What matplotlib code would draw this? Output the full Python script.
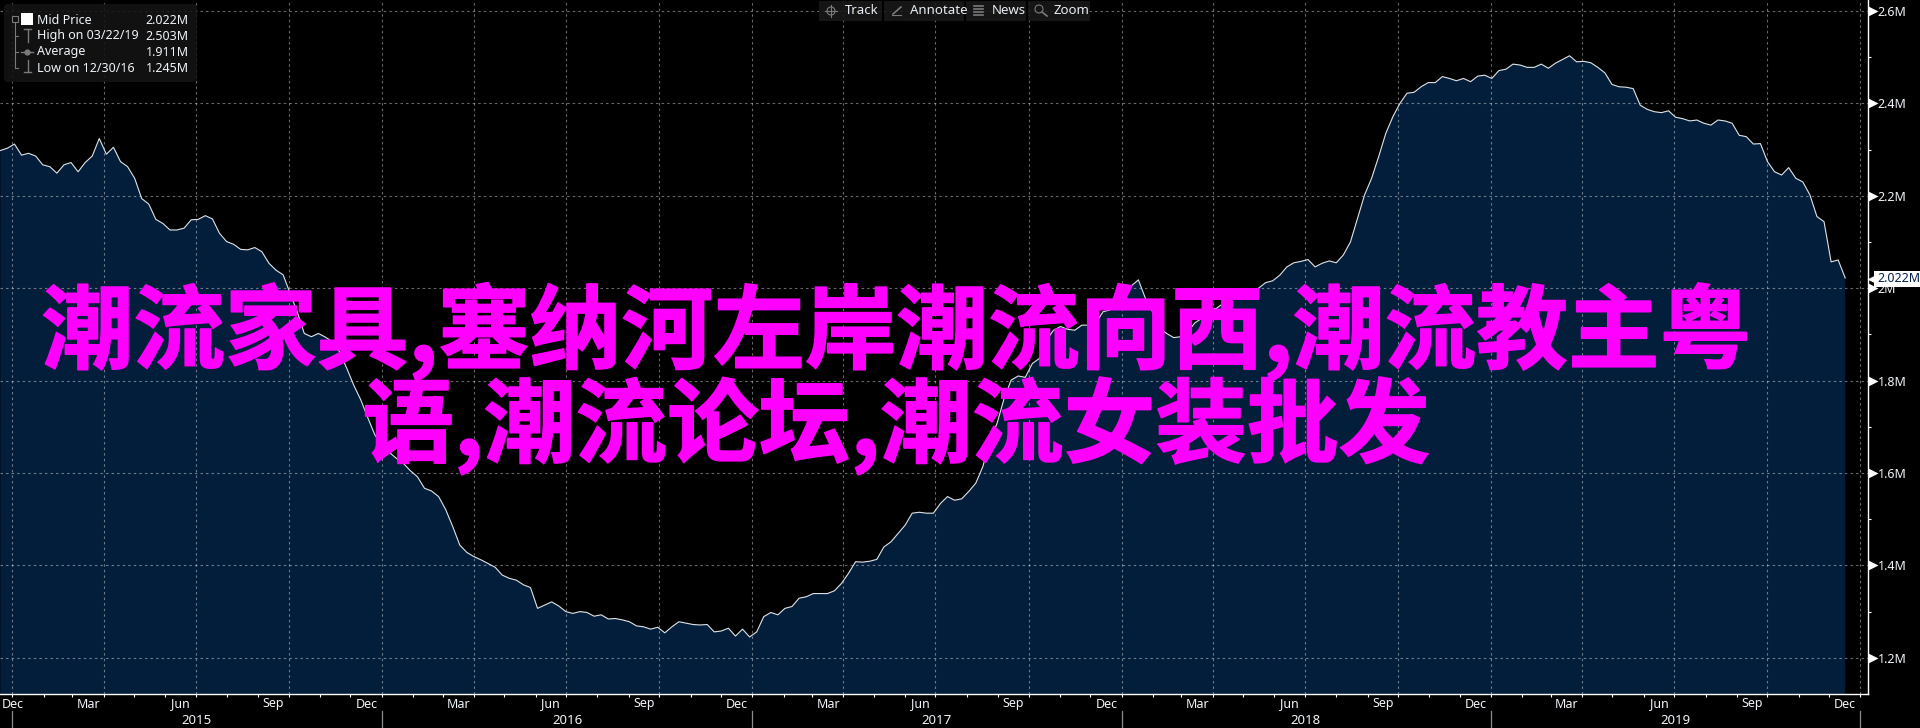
import matplotlib
matplotlib.use("Agg")
import matplotlib.pyplot as plt
import matplotlib.patheffects as pe
import pandas as pd
from matplotlib.patches import FancyBboxPatch, Circle, Rectangle

plt.rcParams["font.family"] = ["Noto Sans", "DejaVu Sans"]

# weekly mid price, millions
mid_price = [
    2.298, 2.303, 2.312, 2.288, 2.292, 2.286, 2.267, 2.263, 2.249, 2.267,
    2.272, 2.252, 2.272, 2.286, 2.324, 2.290, 2.305, 2.274, 2.263, 2.238,
    2.194, 2.182, 2.149, 2.140, 2.126, 2.126, 2.130, 2.148, 2.149, 2.157,
    2.150, 2.119, 2.101, 2.095, 2.084, 2.083, 2.088, 2.079, 2.054, 2.039,
    2.029, 1.989, 1.949, 1.902, 1.895, 1.902, 1.894, 1.884, 1.862, 1.827,
    1.790, 1.758, 1.719, 1.682, 1.661, 1.645, 1.632, 1.621, 1.605, 1.592,
    1.567, 1.561, 1.549, 1.521, 1.484, 1.444, 1.428, 1.419, 1.412, 1.404,
    1.396, 1.379, 1.372, 1.368, 1.358, 1.352, 1.307, 1.314, 1.321, 1.312,
    1.300, 1.296, 1.300, 1.298, 1.290, 1.293, 1.284, 1.285, 1.282, 1.278,
    1.269, 1.267, 1.262, 1.266, 1.254, 1.267, 1.278, 1.275, 1.272, 1.271,
    1.272, 1.256, 1.258, 1.264, 1.247, 1.262, 1.245, 1.256, 1.289, 1.298,
    1.293, 1.307, 1.311, 1.329, 1.332, 1.339, 1.339, 1.339, 1.345, 1.361,
    1.383, 1.408, 1.407, 1.409, 1.413, 1.440, 1.451, 1.469, 1.487, 1.513,
    1.515, 1.513, 1.513, 1.534, 1.549, 1.541, 1.544, 1.560, 1.578, 1.614,
    1.671, 1.707, 1.761, 1.801, 1.810, 1.807, 1.837, 1.848, 1.888, 1.909,
    1.917, 1.911, 1.909, 1.920, 1.920, 1.925, 1.949, 1.953, 1.974, 2.000,
    2.005, 2.018, 1.978, 1.949, 1.913, 1.902, 1.893, 1.895, 1.906, 1.925,
    1.935, 1.953, 1.956, 1.967, 1.981, 1.992, 1.997, 1.994, 2.000, 2.012,
    2.016, 2.028, 2.046, 2.055, 2.058, 2.062, 2.046, 2.054, 2.059, 2.055,
    2.072, 2.100, 2.151, 2.202, 2.238, 2.285, 2.335, 2.371, 2.400, 2.422,
    2.424, 2.436, 2.445, 2.445, 2.458, 2.454, 2.449, 2.454, 2.447, 2.459,
    2.461, 2.454, 2.471, 2.474, 2.485, 2.483, 2.478, 2.478, 2.485, 2.476,
    2.487, 2.495, 2.503, 2.490, 2.491, 2.488, 2.478, 2.466, 2.441, 2.436,
    2.435, 2.432, 2.396, 2.387, 2.382, 2.380, 2.384, 2.370, 2.367, 2.362,
    2.364, 2.357, 2.353, 2.364, 2.362, 2.357, 2.331, 2.328, 2.312, 2.313,
    2.274, 2.252, 2.245, 2.261, 2.238, 2.230, 2.202, 2.155, 2.144, 2.057,
    2.061, 2.022,
]
dates = pd.date_range("2014-12-19", "2019-12-16", periods=len(mid_price))

y_ticks = [1.2, 1.4, 1.6, 1.8, 2.0, 2.2, 2.4, 2.6]
y_labels = ["1.2M", "1.4M", "1.6M", "1.8M", "2M", "2.2M", "2.4M", "2.6M"]
y_minor = [1.3, 1.5, 1.7, 1.9, 2.1, 2.3, 2.5]
years = [2015, 2016, 2017, 2018, 2019]

legend_rows = [
    ("Mid Price", "2.022M"),
    ("High on 03/22/19", "2.503M"),
    ("Average", "1.911M"),
    ("Low on 12/30/16", "1.245M"),
]
toolbar = ["Track", "Annotate", "News", "Zoom"]
title_lines = ["潮流家具,塞纳河左岸潮流向西,潮流教主粤", "语,潮流论坛,潮流女装批发"]

BLACK = "#000000"
NAVY = "#031e3a"
TXT = "#f0f4f8"
W, H = 1920, 728
AX_R, AX_B = 1868, 694

fig = plt.figure(figsize=(W / 100, H / 100), dpi=100, facecolor=BLACK)
ax = fig.add_axes([0, 1 - AX_B / H, AX_R / W, AX_B / H], facecolor=BLACK)

ax.fill_between(dates, mid_price, 0, color=NAVY, lw=0, zorder=1)
ax.plot(dates, mid_price, color="#dfe3e6", lw=0.8, zorder=3)

ax.set_xlim(pd.Timestamp("2014-12-18 16:00"), pd.Timestamp("2020-01-07 12:00"))
ax.set_ylim(1.1216, 2.6238)

# ticks: a grid on quarter ends, small ticks on month ends
quarters = pd.date_range("2014-12-31", "2019-12-31", freq="QE")
months = pd.date_range("2014-12-31", "2019-12-31", freq="ME")
ax.set_xticks(quarters)
ax.set_xticks(months, minor=True)
ax.set_xticklabels([])
ax.tick_params(axis="x", which="both", colors="white", length=2.5, width=0.8, bottom=True)

ax.yaxis.tick_right()
ax.set_yticks(y_ticks)
ax.set_yticklabels(y_labels, color=TXT, fontsize=9)
ax.set_yticks(y_minor, minor=True)
ax.tick_params(axis="y", which="major", length=0, pad=7)
ax.tick_params(axis="y", which="minor", colors="white", length=2.5, width=0.8)

ax.grid(True, which="major", color="white", alpha=0.42, lw=0.8, ls=(0, (2.2, 2.8)), zorder=2)
ax.set_axisbelow(False)
for gl in ax.get_xgridlines() + ax.get_ygridlines():
    gl.set_zorder(2)

for s in ["top", "left"]:
    ax.spines[s].set_visible(False)
for s in ["bottom", "right"]:
    ax.spines[s].set_color("white")
    ax.spines[s].set_linewidth(1.0)

# triangles next to the labelled price ticks
ytrans = ax.get_yaxis_transform()
ax.plot([1 + 4.5 / AX_R] * len(y_ticks), y_ticks, ls="", marker=">", ms=7, color="white",
        mec="none", transform=ytrans, clip_on=False)

# month labels sit in the middle of their month, years under them
xtrans = ax.get_xaxis_transform()
label_y = -(704 - AX_B) / AX_B
year_y = -(720 - AX_B) / AX_B
for i, q in enumerate(quarters):
    if i == 0:
        x = q
    else:
        x = q - pd.Timedelta(days=15)
    ax.text(x, label_y, q.strftime("%b"), transform=xtrans, color=TXT, fontsize=9,
            ha="center", va="center", clip_on=False)
for y in years:
    ax.text(pd.Timestamp(f"{y}-07-01"), year_y, str(y), transform=xtrans, color=TXT,
            fontsize=9.5, ha="center", va="center", clip_on=False)
for y in years:
    ax.plot([pd.Timestamp(f"{y - 1}-12-31")] * 2, [-(711 - AX_B) / AX_B, -(H - AX_B) / AX_B],
            color="#8a8a8a", lw=0.9, transform=xtrans, clip_on=False)
ax.plot([pd.Timestamp("2019-12-31")] * 2, [-(711 - AX_B) / AX_B, -(H - AX_B) / AX_B],
        color="#8a8a8a", lw=0.9, transform=xtrans, clip_on=False)

# overlay in pixel coordinates for the terminal furniture and the title
ov = fig.add_axes([0, 0, 1, 1], facecolor="none")
ov.set_xlim(0, W)
ov.set_ylim(H, 0)
ov.axis("off")

# last price flag
ov.add_patch(Rectangle((1874, 271), 46, 16, fc="white", ec="none", zorder=5))
ov.plot([1873], [279], ls="", marker="<", ms=8, color="white", mec="none", zorder=5)
ov.text(1877, 279, "2.022M", color="#03224a", fontsize=9, va="center", ha="left", zorder=6)

# legend box
ov.add_patch(FancyBboxPatch((4, 4), 193, 78, boxstyle="round,pad=0,rounding_size=4",
                            fc="#141414", ec="none", alpha=0.88))
ICON = "#7a7a7a"
row_y = [20, 36, 52, 68]
for (name, val), y in zip(legend_rows, row_y):
    ov.text(37, y, name, color=TXT, fontsize=9, ha="left", va="center")
    ov.text(189, y, val, color=TXT, fontsize=9, ha="right", va="center")
ov.add_patch(Rectangle((21, 13), 12, 12, fc="white", ec="none"))
ov.add_patch(Rectangle((11.5, 16), 6, 6, fc="none", ec=ICON, lw=0.8))
ov.plot([14.5, 14.5], [22, 68], color=ICON, lw=0.8)
for y in row_y[1:]:
    ov.plot([14.5, 18], [y, y], color=ICON, lw=0.8)
ov.plot([24, 31], [29, 29], color=ICON, lw=1)
ov.plot([27.5, 27.5], [29, 42], color=ICON, lw=1)
ov.plot([21, 33], [52, 52], color=ICON, lw=1)
ov.plot([27], [52], marker="o", ms=3.5, color=ICON)
ov.plot([27.5, 27.5], [60, 72], color=ICON, lw=1)
ov.plot([24, 31], [72, 72], color=ICON, lw=1)

# toolbar
bar_x = [(819, 882), (884, 964), (966, 1026), (1028, 1090)]
text_x = [845, 910, 992, 1054]
for (x0, x1), tx, name in zip(bar_x, text_x, toolbar):
    ov.add_patch(Rectangle((x0, 1), x1 - x0, 20, fc="#191919", ec="none", alpha=0.88, zorder=3))
    ov.text(tx, 11, name, color="#e8eef4", fontsize=9.5, ha="left", va="center", zorder=4)
ov.add_patch(Circle((831, 11), 4, fc="none", ec=ICON, lw=0.8, zorder=4))
ov.plot([825, 837], [11, 11], color=ICON, lw=0.8, zorder=4)
ov.plot([831, 831], [5, 17], color=ICON, lw=0.8, zorder=4)
ov.plot([893, 901], [14, 7], color=ICON, lw=1.2, zorder=4)
ov.plot([892, 901], [15, 15], color=ICON, lw=0.8, zorder=4)
for y in [6, 9, 12, 15]:
    ov.plot([974, 983], [y, y], color=ICON, lw=1.2, zorder=4)
ov.add_patch(Circle((1039, 9), 4, fc="none", ec=ICON, lw=0.8, zorder=4))
ov.plot([1042, 1047], [12, 16], color=ICON, lw=1.2, zorder=4)

# big overlaid title
for line, y in zip(title_lines, [332, 426]):
    ov.text(896, y, line, color="#ff00ff", fontsize=66, ha="center", va="center", zorder=10,
            family=["Noto Sans CJK SC", "DejaVu Sans"], fontweight="bold",
            path_effects=[pe.withStroke(linewidth=1.0, foreground="#ff00ff")])

fig.savefig("out.png", dpi=100, facecolor=BLACK)
